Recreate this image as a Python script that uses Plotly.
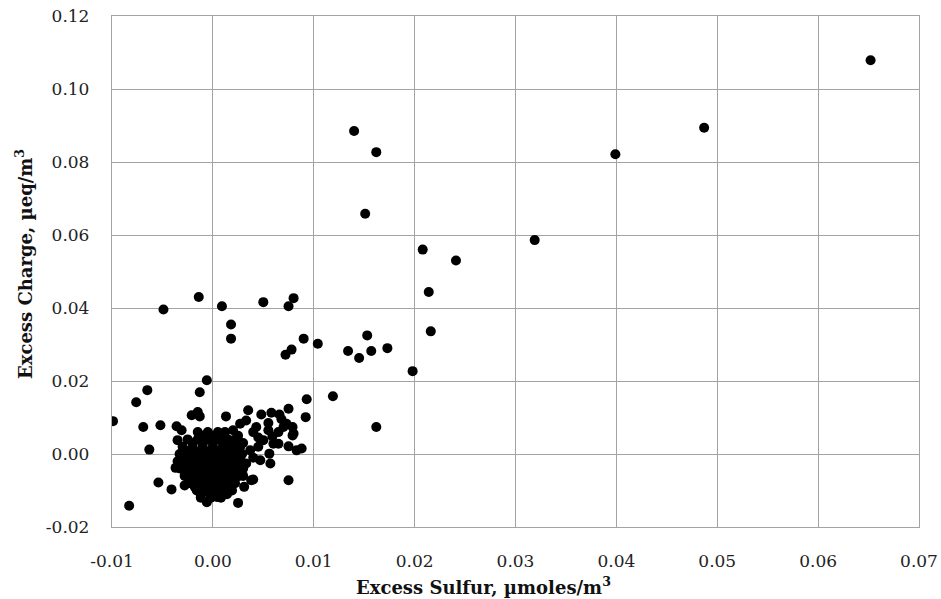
import plotly.graph_objects as go

# Excess Sulfur (x) and Excess Charge (y)
x_sulfur = [
    0.0652, 0.0487, 0.0399, 0.0319, 0.0140, 0.0162, 0.0151, 0.0208, 0.0241, 0.0214,
    0.0216, 0.0173, 0.0198, 0.0162, 0.0080, 0.0075, -0.0049, -0.0014, 0.0009, 0.0050,
    0.0018, 0.0018, 0.0090, 0.0104, 0.0078, 0.0072, 0.0134, 0.0145, 0.0153, 0.0157,
    0.0119, 0.0093, 0.0092, -0.0006, -0.0065, -0.0013, -0.0076, -0.0099, -0.0083, -0.0069,
    -0.0052, -0.0063, -0.0054, -0.0041, -0.0028, -0.0036, -0.0031, -0.0035, -0.0037, -0.0021,
    -0.0015, -0.0013, 0.0013, 0.0025, 0.0031, 0.0040, 0.0075, 0.0057, 0.0088, 0.0083,
    0.0075, 0.0035, 0.0048, 0.0058, 0.0066, 0.0079, 0.0070, 0.0079, 0.0075, 0.0050,
    0.0059, 0.0065, 0.0056, 0.0047, 0.0073, 0.0080, 0.0060, 0.0020, 0.0027, 0.0033,
    0.0043, 0.0027, 0.0037, 0.0017, 0.0033, 0.0010, 0.0017, -0.0006, 0.0004, 0.0038,
    0.0025, 0.0040, 0.0030, 0.0045, 0.0040, 0.0025, 0.0030, 0.0045, 0.0055, 0.0065,
    0.0068, 0.0055,
    # dense core
    -0.0015, -0.0005, 0.0005, 0.0012,
    -0.0025, -0.0015, -0.0005, 0.0005, 0.0015, 0.0022,
    -0.0030, -0.0020, -0.0010, 0.0000, 0.0010, 0.0020,
    -0.0033, -0.0024, -0.0015, -0.0006, 0.0003, 0.0012, 0.0021, 0.0029,
    -0.0035, -0.0026, -0.0017, -0.0008, 0.0001, 0.0010, 0.0019, 0.0028,
    -0.0032, -0.0023, -0.0014, -0.0005, 0.0004, 0.0013, 0.0022, 0.0030,
    -0.0028, -0.0019, -0.0010, -0.0001, 0.0008, 0.0017, 0.0026,
    -0.0022, -0.0013, -0.0004, 0.0005, 0.0014, 0.0022,
    -0.0016, -0.0007, 0.0002, 0.0011, 0.0019,
    -0.0012, -0.0002, 0.0008,
    # dense core, staggered rows
    -0.0010, 0.0000, 0.0009,
    -0.0020, -0.0010, 0.0000, 0.0010, 0.0018,
    -0.0028, -0.0019, -0.0011, -0.0002, 0.0007, 0.0016, 0.0025,
    -0.0030, -0.0021, -0.0012, -0.0003, 0.0006, 0.0015, 0.0024,
    -0.0031, -0.0022, -0.0013, -0.0004, 0.0005, 0.0014, 0.0023,
    -0.0027, -0.0018, -0.0009, 0.0000, 0.0009, 0.0018, 0.0026,
    -0.0024, -0.0015, -0.0006, 0.0003, 0.0012, 0.0020,
    -0.0018, -0.0009, 0.0000, 0.0009, 0.0017,
    -0.0012, -0.0003, 0.0006, 0.0014,
]
y_charge = [
    0.1079, 0.0894, 0.0821, 0.0586, 0.0885, 0.0827, 0.0658, 0.0560, 0.0530, 0.0444,
    0.0336, 0.0290, 0.0227, 0.0074, 0.0427, 0.0405, 0.0396, 0.0430, 0.0405, 0.0416,
    0.0355, 0.0316, 0.0316, 0.0302, 0.0286, 0.0272, 0.0282, 0.0263, 0.0325, 0.0282,
    0.0158, 0.0150, 0.0101, 0.0202, 0.0175, 0.0169, 0.0142, 0.0090, -0.0142, 0.0074,
    0.0079, 0.0012, -0.0078, -0.0097, -0.0086, 0.0076, 0.0065, 0.0038, -0.0038, 0.0106,
    0.0115, 0.0103, 0.0103, -0.0134, -0.0090, -0.0070, -0.0072, -0.0026, 0.0015, 0.0010,
    0.0124, 0.0120, 0.0108, 0.0113, 0.0108, 0.0074, 0.0074, 0.0051, 0.0021, 0.0038,
    0.0048, 0.0028, 0.0001, -0.0017, 0.0083, 0.0056, 0.0028, 0.0065, 0.0083, 0.0092,
    0.0074, 0.0019, 0.0010, -0.0008, -0.0026, -0.0054, -0.0090, -0.0132, -0.0118, -0.0072,
    0.0050, 0.0060, 0.0030, 0.0020, -0.0010, -0.0040, -0.0060, 0.0045, 0.0065, 0.0060,
    0.0095, 0.0085,
    # dense core
    0.006, 0.006, 0.006, 0.006,
    0.004, 0.004, 0.004, 0.004, 0.004, 0.004,
    0.002, 0.002, 0.002, 0.002, 0.002, 0.002,
    0.000, 0.000, 0.000, 0.000, 0.000, 0.000, 0.000, 0.000,
    -0.002, -0.002, -0.002, -0.002, -0.002, -0.002, -0.002, -0.002,
    -0.004, -0.004, -0.004, -0.004, -0.004, -0.004, -0.004, -0.004,
    -0.006, -0.006, -0.006, -0.006, -0.006, -0.006, -0.006,
    -0.008, -0.008, -0.008, -0.008, -0.008, -0.008,
    -0.010, -0.010, -0.010, -0.010, -0.010,
    -0.012, -0.012, -0.012,
    # dense core, staggered rows
    0.005, 0.005, 0.005,
    0.003, 0.003, 0.003, 0.003, 0.003,
    0.001, 0.001, 0.001, 0.001, 0.001, 0.001, 0.001,
    -0.001, -0.001, -0.001, -0.001, -0.001, -0.001, -0.001,
    -0.003, -0.003, -0.003, -0.003, -0.003, -0.003, -0.003,
    -0.005, -0.005, -0.005, -0.005, -0.005, -0.005, -0.005,
    -0.007, -0.007, -0.007, -0.007, -0.007, -0.007,
    -0.009, -0.009, -0.009, -0.009, -0.009,
    -0.011, -0.011, -0.011, -0.011,
]

x_range = [-0.01, 0.07]
y_range = [-0.02, 0.12]
x_tick_vals = [-0.01, 0.0, 0.01, 0.02, 0.03, 0.04, 0.05, 0.06, 0.07]
x_tick_text = ["-0.01", "0.00", "0.01", "0.02", "0.03", "0.04", "0.05", "0.06", "0.07"]
y_tick_vals = [-0.02, 0.0, 0.02, 0.04, 0.06, 0.08, 0.10, 0.12]
y_tick_text = ["-0.02", "0.00", "0.02", "0.04", "0.06", "0.08", "0.10", "0.12"]
x_title = "Excess Sulfur, µmoles/m<sup>3</sup>"
y_title = "Excess Charge, µeq/m<sup>3</sup>"

FONT = "DejaVu Serif"
GRID = "#a3a3a3"

fig = go.Figure()
fig.add_trace(go.Scatter(
    x=x_sulfur, y=y_charge, mode="markers",
    marker=dict(color="black", size=10, line=dict(width=0)),
    showlegend=False, hoverinfo="x+y",
))

axis_common = dict(
    showgrid=True, gridcolor=GRID, gridwidth=1.3,
    showline=True, linecolor=GRID, linewidth=1.3, mirror=True,
    zeroline=False, ticks="", automargin=False, ticklabeloverflow="allow",
    tickfont=dict(family=FONT, size=17, color="#222"),
)

fig.update_layout(
    width=941, height=599,
    margin=dict(l=112, r=22, t=16, b=72),
    paper_bgcolor="white", plot_bgcolor="white",
    font=dict(family=FONT, color="#111"),
    xaxis=dict(range=x_range, tickvals=x_tick_vals, ticktext=x_tick_text,
               ticklabelstandoff=18, **axis_common),
    yaxis=dict(range=y_range, tickvals=y_tick_vals, ticktext=y_tick_text,
               ticklabelstandoff=18, **axis_common),
    annotations=[
        dict(text="<b>" + x_title + "</b>", xref="paper", yref="paper",
             x=(483 - 112) / 807, y=-(586 - 527) / 511, xanchor="center", yanchor="middle",
             showarrow=False, font=dict(family=FONT, size=18, color="#111")),
        dict(text="<b>" + y_title + "</b>", xref="paper", yref="paper",
             x=-(112 - 24) / 807, y=(527 - 264) / 511, xanchor="center", yanchor="middle",
             textangle=-90, showarrow=False, font=dict(family=FONT, size=18, color="#111")),
    ],
)

# remove the browser's default 8px body margin so the figure fills the window
fig.write_html("out.html",
               config={"displayModeBar": False},
               post_script="document.body.style.margin='0';document.body.style.overflow='hidden';")
